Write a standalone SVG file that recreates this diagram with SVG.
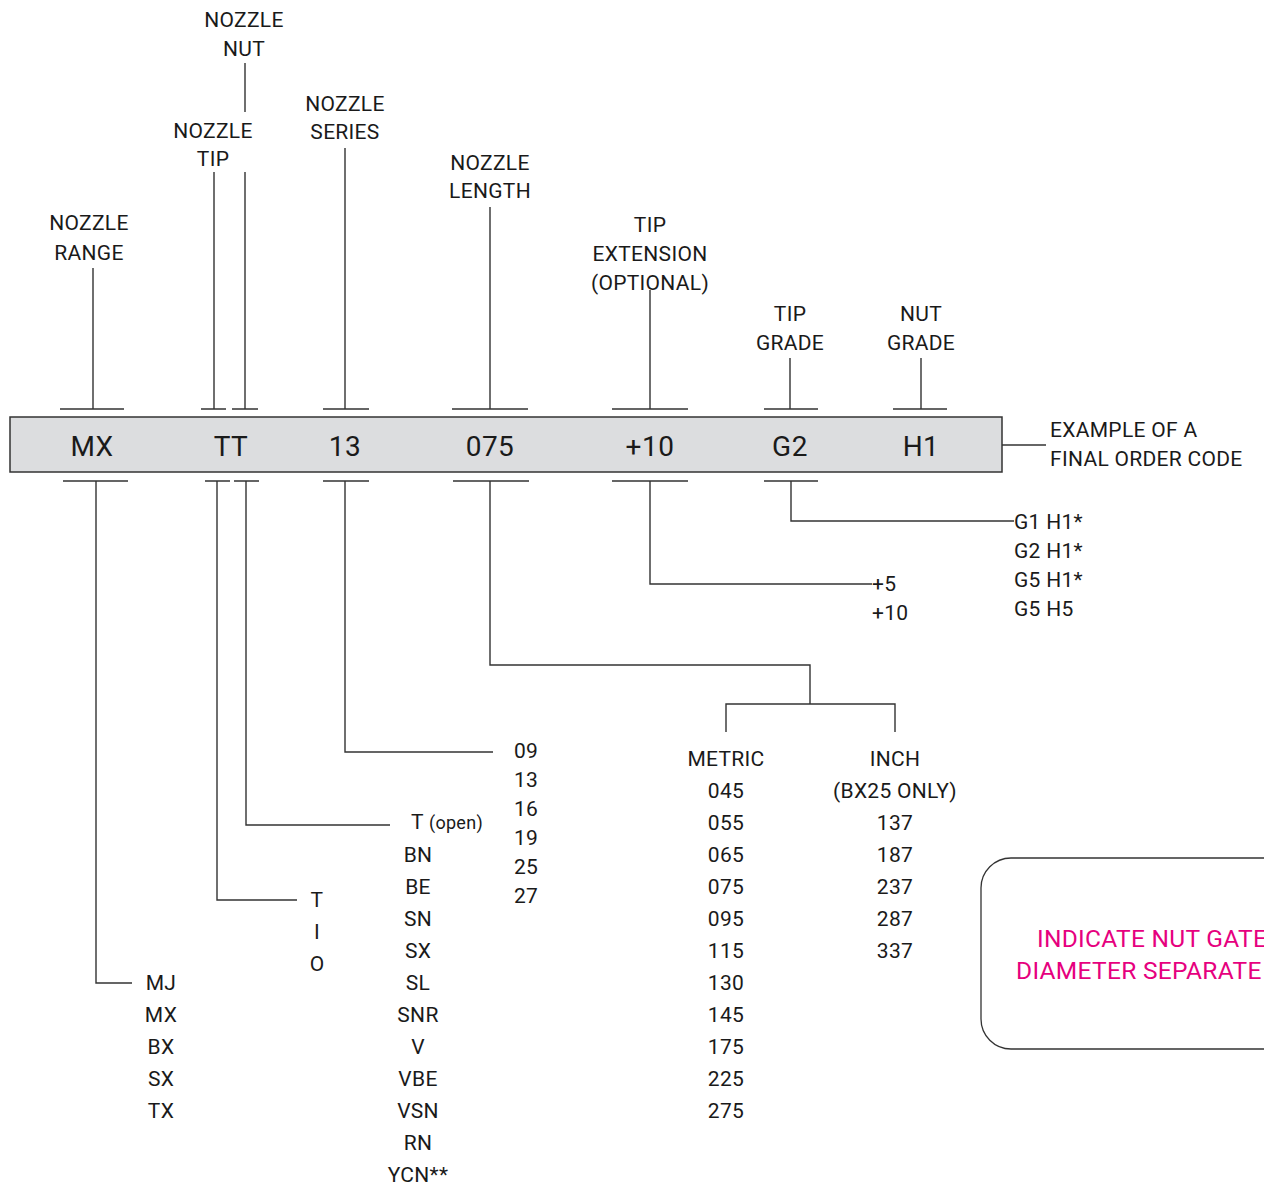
<svg xmlns="http://www.w3.org/2000/svg" width="1264" height="1185" viewBox="0 0 1264 1185">
<style>
text{font-family:Roboto,"Liberation Sans",sans-serif;fill:#1a1a1a}
.l{font-size:21px;text-anchor:middle;letter-spacing:0.3px}
.s{font-size:21px;letter-spacing:0.3px}
.b{font-size:28px;text-anchor:middle;letter-spacing:0.5px}
.ln{stroke:#333;stroke-width:1.4;fill:none}
.pk{font-size:24.5px;fill:#e6007e;letter-spacing:0.3px}
</style>
<rect width="1264" height="1185" fill="#fff"/>
<g id="connectors" class="ln">
<path d="M60 409H124M93 409V268"/>
<path d="M201 409H226M214 409V172M232 409H258M245 409V172M245 63V112"/>
<path d="M323 409H369M345 409V148"/>
<path d="M452 409H528M490 409V207"/>
<path d="M612 409H688M650 409V290"/>
<path d="M764 409H818M790 409V358"/>
<path d="M893 409H947M921 409V358"/>
<path d="M63 481H128M96 481V983H132"/>
<path d="M205 481H230M217 481V900H297"/>
<path d="M234 481H259M246 481V825H390"/>
<path d="M323 481H369M345 481V752H493"/>
<path d="M453 481H529M490 481V665H810V704M726 732V704H895V732"/>
<path d="M612 481H688M650 481V584H872"/>
<path d="M764 481H818M791 481V521H1014"/>
<path d="M1002 445H1046"/>
</g>
<g id="bar">
<rect x="10" y="417" width="992" height="55" fill="#dcdddf" stroke="#333" stroke-width="1.5"/>
<text class="b" x="92" y="456">MX</text>
<text class="b" x="231" y="456">TT</text>
<text class="b" x="345" y="456">13</text>
<text class="b" x="490" y="456">075</text>
<text class="b" x="650" y="456">+10</text>
<text class="b" x="790" y="456">G2</text>
<text class="b" x="921" y="456">H1</text>
</g>
<g id="label-nut"><text class="l" x="244" y="27">NOZZLE</text><text class="l" x="244" y="56">NUT</text></g>
<g id="label-tip"><text class="l" x="213" y="138">NOZZLE</text><text class="l" x="213" y="166">TIP</text></g>
<g id="label-series"><text class="l" x="345" y="111">NOZZLE</text><text class="l" x="345" y="139">SERIES</text></g>
<g id="label-length"><text class="l" x="490" y="170">NOZZLE</text><text class="l" x="490" y="198">LENGTH</text></g>
<g id="label-range"><text class="l" x="89" y="230">NOZZLE</text><text class="l" x="89" y="260">RANGE</text></g>
<g id="label-ext"><text class="l" x="650" y="232">TIP</text><text class="l" x="650" y="261">EXTENSION</text><text class="l" x="650" y="290">(OPTIONAL)</text></g>
<g id="label-tipgrade"><text class="l" x="790" y="321">TIP</text><text class="l" x="790" y="350">GRADE</text></g>
<g id="label-nutgrade"><text class="l" x="921" y="321">NUT</text><text class="l" x="921" y="350">GRADE</text></g>
<g id="label-example"><text class="s" x="1050" y="437">EXAMPLE OF A</text><text class="s" x="1050" y="466">FINAL ORDER CODE</text></g>
<g id="list-grade"><text class="s" x="1014" y="529">G1 H1*</text><text class="s" x="1014" y="558">G2 H1*</text><text class="s" x="1014" y="587">G5 H1*</text><text class="s" x="1014" y="616">G5 H5</text></g>
<g id="list-ext"><text class="s" x="872" y="591">+5</text><text class="s" x="872" y="620">+10</text></g>
<g id="list-series"><text class="s" x="514" y="758">09</text><text class="s" x="514" y="787">13</text><text class="s" x="514" y="816">16</text><text class="s" x="514" y="845">19</text><text class="s" x="514" y="874">25</text><text class="s" x="514" y="903">27</text></g>
<g id="list-metric"><text class="l" x="726" y="766">METRIC</text><text class="l" x="726" y="798">045</text><text class="l" x="726" y="830">055</text><text class="l" x="726" y="862">065</text><text class="l" x="726" y="894">075</text><text class="l" x="726" y="926">095</text><text class="l" x="726" y="958">115</text><text class="l" x="726" y="990">130</text><text class="l" x="726" y="1022">145</text><text class="l" x="726" y="1054">175</text><text class="l" x="726" y="1086">225</text><text class="l" x="726" y="1118">275</text></g>
<g id="list-inch"><text class="l" x="895" y="766">INCH</text><text class="l" x="895" y="798">(BX25 ONLY)</text><text class="l" x="895" y="830">137</text><text class="l" x="895" y="862">187</text><text class="l" x="895" y="894">237</text><text class="l" x="895" y="926">287</text><text class="l" x="895" y="958">337</text></g>
<g id="list-tip"><text class="s" x="411" y="829">T <tspan font-size="18">(open)</tspan></text><text class="l" x="418" y="862">BN</text><text class="l" x="418" y="894">BE</text><text class="l" x="418" y="926">SN</text><text class="l" x="418" y="958">SX</text><text class="l" x="418" y="990">SL</text><text class="l" x="418" y="1022">SNR</text><text class="l" x="418" y="1054">V</text><text class="l" x="418" y="1086">VBE</text><text class="l" x="418" y="1118">VSN</text><text class="l" x="418" y="1150">RN</text><text class="l" x="418" y="1182">YCN**</text></g>
<g id="list-nut"><text class="l" x="317" y="907">T</text><text class="l" x="317" y="939">I</text><text class="l" x="317" y="971">O</text></g>
<g id="list-range"><text class="l" x="161" y="990">MJ</text><text class="l" x="161" y="1022">MX</text><text class="l" x="161" y="1054">BX</text><text class="l" x="161" y="1086">SX</text><text class="l" x="161" y="1118">TX</text></g>
<g id="note">
<rect x="981" y="858" width="330" height="191" rx="30" fill="none" stroke="#333" stroke-width="1.3"/>
<text class="pk" x="1037" y="947">INDICATE NUT GATE</text>
<text class="pk" x="1016" y="979">DIAMETER SEPARATE</text>
</g>
</svg>
